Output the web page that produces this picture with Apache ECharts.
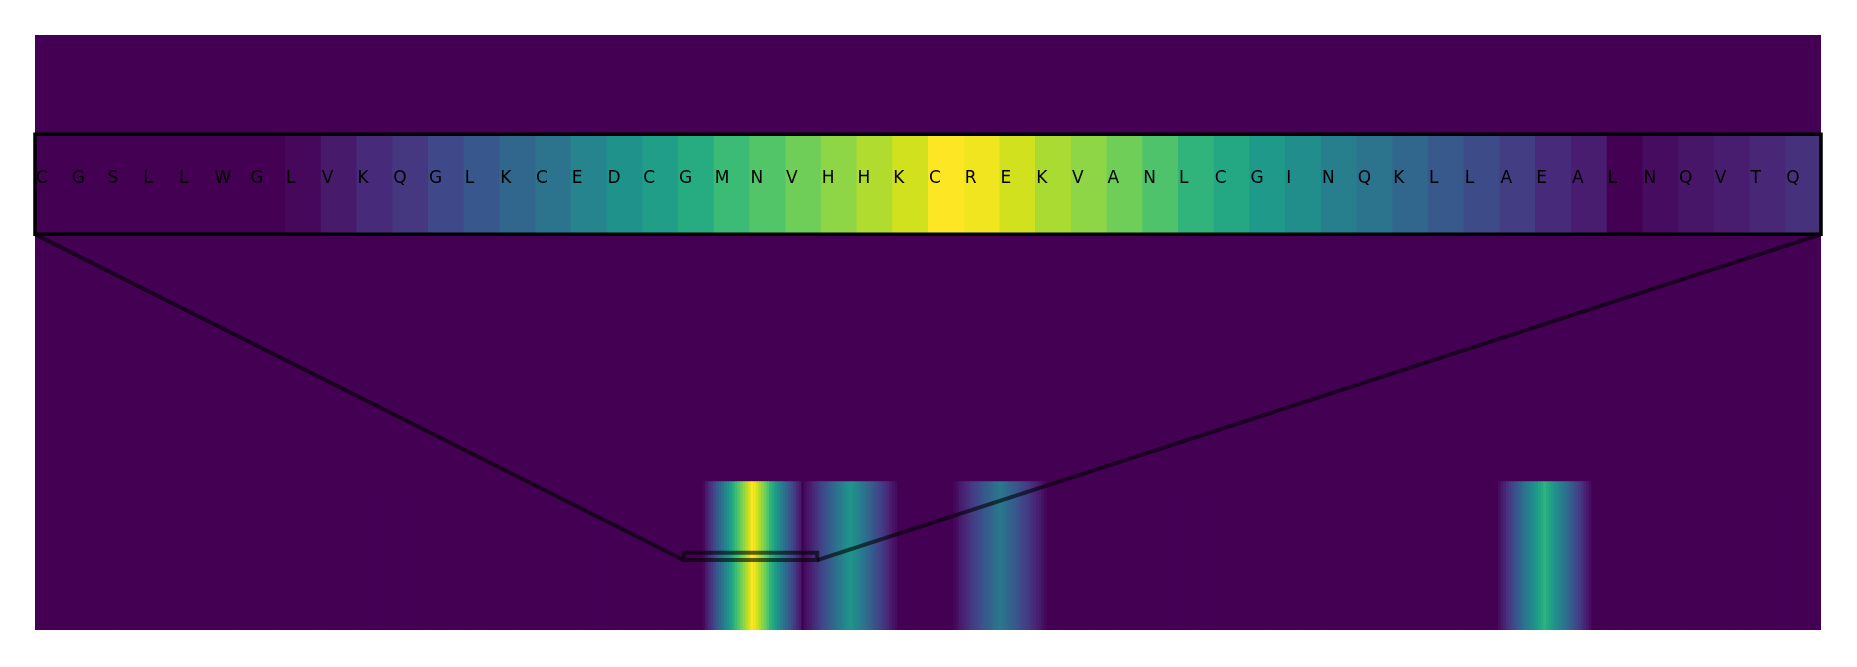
<!DOCTYPE html>
<html>
<head>
<meta charset="utf-8">
<script src="https://cdn.jsdelivr.net/npm/echarts@6/dist/echarts.min.js"></script>
<style>
html,body{margin:0;padding:0;background:#ffffff;}
#chart{width:1857px;height:667px;}
</style>
</head>
<body>
<div id="chart"></div>
<script>
// ---------------- data ----------------
const sequenceLength = 669;          // residues in the full sequence (x axis of main map)
const zoomStart = 243;               // first residue shown in the zoomed strip
const residues = ['C','G','S','L','L','W','G','L','V','K','Q','G','L','K','C','E','D','C','G','M',
                  'N','V','H','H','K','C','R','E','K','V','A','N','L','C','G','I','N','Q','K','L',
                  'L','A','E','A','L','N','Q','V','T','Q'];
// non-zero stretches of the per-residue score (everything else reads as 0)
const segmentStarts = [250, 288, 344, 548];
const segmentA = [0.02,0.07,0.12,0.16,0.22,0.27,0.33,0.38,0.45,0.51,0.56,0.62,0.68,0.73,0.78,0.83,0.88,0.93,1.00,
                  0.98,0.93,0.87,0.83,0.78,0.72,0.65,0.60,0.54,0.49,0.43,0.38,0.33,0.28,0.23,0.18,0.12,0.08];
const segmentB = [0.03,0.06,0.08,0.11,0.14,0.17,0.20,0.23,0.26,0.29,0.32,0.35,0.38,0.41,0.44,0.47,0.50,0.52,
                  0.50,0.47,0.44,0.41,0.38,0.35,0.32,0.29,0.26,0.23,0.20,0.17,0.14,0.11,0.08,0.05,0.03];
const segmentC = [0.02,0.04,0.07,0.09,0.11,0.13,0.16,0.18,0.20,0.22,0.25,0.27,0.29,0.31,0.33,0.36,0.38,0.40,
                  0.38,0.36,0.33,0.31,0.29,0.27,0.25,0.22,0.20,0.18,0.16,0.13,0.11,0.09,0.07,0.04,0.02];
const segmentD = [0.03,0.07,0.10,0.14,0.18,0.21,0.25,0.29,0.32,0.36,0.40,0.43,0.47,0.50,0.54,0.58,0.61,0.65,
                  0.61,0.58,0.54,0.50,0.47,0.43,0.40,0.36,0.32,0.29,0.25,0.21,0.18,0.14,0.10,0.07,0.03];
const segments = [segmentA, segmentB, segmentC, segmentD];

// ---------------- styling constants ----------------
const viridis = ['#440154','#481467','#482576','#453781','#404688','#39558c','#33638d','#2d718e','#287d8e','#238a8d',
                 '#1f968b','#20a386','#29af7f','#3dbc74','#56c667','#75d054','#95d840','#bade28','#dde318','#fde725'];
const mainRows = 4;          // y extent of main map; the scored band is row 0..1
const zoomBoxLow = 0.47, zoomBoxHigh = 0.52;
const letterY = 0.553;
const connectorColor = 'rgba(0,0,0,0.6)';

// ---------------- build ----------------
const scores = new Array(sequenceLength).fill(0);
segments.forEach((seg, k) => seg.forEach((v, j) => { scores[segmentStarts[k] + j] = v; }));
const stripScores = scores.slice(zoomStart, zoomStart + residues.length);

function cellRenderer(yLow, yHigh, count) {
  return function (params, api) {
    const i = api.value(0);
    const a = api.coord([i, yHigh]);
    const b = api.coord([i + 1, yLow]);
    const overlap = i < count - 1 ? 0.7 : 0;
    return {
      type: 'rect',
      shape: { x: a[0], y: a[1], width: b[0] - a[0] + overlap, height: b[1] - a[1] },
      style: { fill: api.visual('color') }
    };
  };
}

const chart = echarts.init(document.getElementById('chart'), null, { renderer: 'canvas' });
chart.setOption({
  animation: false,
  backgroundColor: '#ffffff',
  grid: [
    { left: 35, top: 35, right: 36, bottom: 37, show: true, backgroundColor: '#440154', borderWidth: 0 },
    { left: 35, top: 134.3, right: 36, height: 100, show: false }
  ],
  xAxis: [
    { type: 'value', gridIndex: 0, min: 0, max: sequenceLength, show: false },
    { type: 'value', gridIndex: 1, min: 0, max: residues.length, show: false }
  ],
  yAxis: [
    { type: 'value', gridIndex: 0, min: 0, max: mainRows, show: false },
    { type: 'value', gridIndex: 1, min: 0, max: 1, show: false }
  ],
  visualMap: {
    type: 'continuous', show: false, min: 0, max: 1, dimension: 1,
    seriesIndex: [0, 1], inRange: { color: viridis }
  },
  series: [
    {
      type: 'custom', xAxisIndex: 0, yAxisIndex: 0, z: 2,
      data: scores.map((v, i) => [i, v]),
      encode: { x: 0 },
      renderItem: cellRenderer(0, 1, sequenceLength)
    },
    {
      type: 'custom', xAxisIndex: 1, yAxisIndex: 1, z: 5,
      data: stripScores.map((v, k) => [k, v]),
      encode: { x: 0 },
      renderItem: cellRenderer(0, 1, residues.length)
    },
    {
      type: 'custom', xAxisIndex: 1, yAxisIndex: 1, z: 6,
      data: residues.map((r, k) => [k, letterY]),
      encode: { x: 0, y: 1 },
      renderItem: function (params, api) {
        const p = api.coord([api.value(0), api.value(1)]);
        return {
          type: 'text', x: p[0] + 1, y: p[1],
          style: {
            text: residues[params.dataIndex],
            font: '17px "DejaVu Sans"',
            fill: '#000000', align: 'left', verticalAlign: 'middle'
          }
        };
      }
    },
    {
      type: 'custom', xAxisIndex: 1, yAxisIndex: 1, z: 7,
      data: [[0, residues.length]],
      renderItem: function (params, api) {
        const a = api.coord([api.value(0), 1]);
        const b = api.coord([api.value(1), 0]);
        return {
          type: 'rect',
          shape: { x: a[0], y: a[1], width: b[0] - a[0], height: b[1] - a[1] },
          style: { fill: 'none', stroke: '#000000', lineWidth: 3.5 }
        };
      }
    },
    {
      type: 'custom', xAxisIndex: 0, yAxisIndex: 0, z: 4,
      data: [[zoomStart, zoomStart + residues.length]],
      renderItem: function (params, api) {
        const a = api.coord([api.value(0), zoomBoxHigh]);
        const b = api.coord([api.value(1), zoomBoxLow]);
        return {
          type: 'rect',
          shape: { x: a[0], y: a[1], width: b[0] - a[0], height: b[1] - a[1] },
          style: { fill: 'none', stroke: connectorColor, lineWidth: 4 }
        };
      }
    }
  ]
});

// connector lines between the strip's lower corners and the zoom box's lower corners
const sL = chart.convertToPixel({ gridIndex: 1 }, [0, 0]);
const sR = chart.convertToPixel({ gridIndex: 1 }, [residues.length, 0]);
const bL = chart.convertToPixel({ gridIndex: 0 }, [zoomStart, zoomBoxLow]);
const bR = chart.convertToPixel({ gridIndex: 0 }, [zoomStart + residues.length, zoomBoxLow]);
chart.setOption({
  graphic: [
    { type: 'line', z: 50, shape: { x1: sL[0], y1: sL[1], x2: bL[0], y2: bL[1] },
      style: { stroke: connectorColor, lineWidth: 4 } },
    { type: 'line', z: 50, shape: { x1: sR[0], y1: sR[1], x2: bR[0], y2: bR[1] },
      style: { stroke: connectorColor, lineWidth: 4 } }
  ]
});
</script>
</body>
</html>
